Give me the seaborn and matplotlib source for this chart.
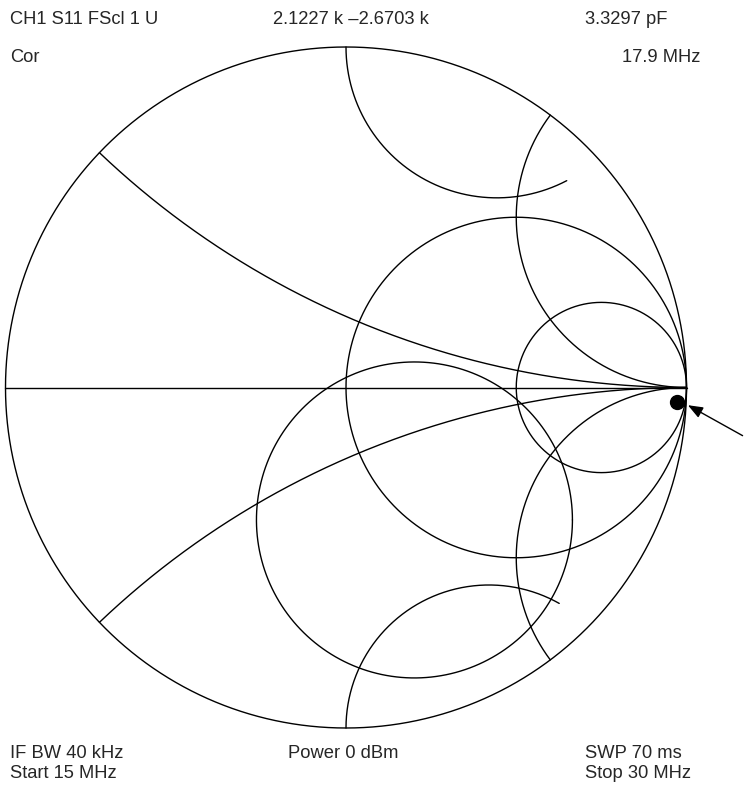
#%% import libraries
import numpy as np
import pandas as pd
import seaborn as sns
import matplotlib
matplotlib.use('Agg')
import matplotlib.pyplot as plt

#%% plot setup
sns.set_style("white")
plt.rcParams['font.family'] = ['Liberation Sans', 'DejaVu Sans']

#%% chart data (normalised reflection coefficient plane)
resistance_circles = [0, 1, 3]          # constant-r circles
reactance_arcs = [0.4, -0.4, 2, -2]     # constant-x arcs
real_axis = [-1.0, 1.0]

# measured trace arcs: centre x, centre y, radius, start / end angle (deg)
trace_cx = [0.443, 0.420, 0.201]
trace_cy = [1.000, -1.000, -0.389]
trace_r = [0.443, 0.420, 0.464]
trace_start = [180.0, 180.0, 0.0]
trace_end = [297.6, 60.6, 360.0]

# marker position and readouts
marker_gamma = (0.972, -0.043)
header_texts = ['CH1 S11 FScl 1 U', '2.1227 k \u20132.6703 k', '3.3297 pF']
header2_texts = ['Cor', '17.9 MHz']
footer_texts = ['IF BW 40 kHz', 'Power 0 dBm', 'SWP 70 ms']
footer2_texts = ['Start 15 MHz', 'Stop 30 MHz']

#%% build curves
rows = []
cid = 0
t = np.linspace(0, 2 * np.pi, 721)
for r in resistance_circles:
    c, rad = r / (r + 1.0), 1.0 / (r + 1.0)
    rows.append(pd.DataFrame({'gx': c + rad * np.cos(t), 'gy': rad * np.sin(t), 'curve': cid}))
    cid += 1
rr = np.concatenate([[0.0], np.logspace(-3, 4, 900)])
for x in reactance_arcs:
    g = (rr + 1j * x - 1) / (rr + 1j * x + 1)
    rows.append(pd.DataFrame({'gx': g.real, 'gy': g.imag, 'curve': cid}))
    cid += 1
rows.append(pd.DataFrame({'gx': real_axis, 'gy': [0.0, 0.0], 'curve': cid}))
cid += 1
for cx, cy, rad, a0, a1 in zip(trace_cx, trace_cy, trace_r, trace_start, trace_end):
    a = np.radians(np.linspace(a0, a1, 400))
    rows.append(pd.DataFrame({'gx': cx + rad * np.cos(a), 'gy': cy + rad * np.sin(a), 'curve': cid}))
    cid += 1
df = pd.concat(rows, ignore_index=True)

#%% plot
W, H = 746, 786
cx0, cy0, R = 346.0, 387.5, 340.5
fig = plt.figure(figsize=(W / 100, H / 100), dpi=100)
ax = fig.add_axes([0, 0, 1, 1])
sns.lineplot(data=df, x='gx', y='gy', units='curve', estimator=None, sort=False,
             color='black', linewidth=1.0, legend=False, ax=ax)
ax.plot(*marker_gamma, 'o', color='black', markersize=10)
ax.annotate('', xy=(marker_gamma[0] + 0.025, marker_gamma[1] - 0.005),
            xytext=((745 - cx0) / R, (cy0 - 437) / R),
            arrowprops=dict(arrowstyle='-|>,head_length=0.9,head_width=0.35', color='black', lw=1.0))
ax.set_xlim(-cx0 / R, (W - cx0) / R)
ax.set_ylim((cy0 - H) / R, cy0 / R)
ax.set_aspect('equal')
ax.axis('off')

def put(txt, px, py, ha='left'):
    fig.text(px / W, 1 - py / H, txt, ha=ha, va='center', fontsize=13.2)

put(header_texts[0], 10, 19)
put(header_texts[1], 273, 19)
put(header_texts[2], 585, 19)
put(header2_texts[0], 10, 58)
put(header2_texts[1], 700, 58, ha='right')
put(footer_texts[0], 10, 754)
put(footer_texts[1], 288, 754)
put(footer_texts[2], 585, 754)
put(footer2_texts[0], 10, 774)
put(footer2_texts[1], 585, 774)

plt.savefig('out.png', dpi=100)
